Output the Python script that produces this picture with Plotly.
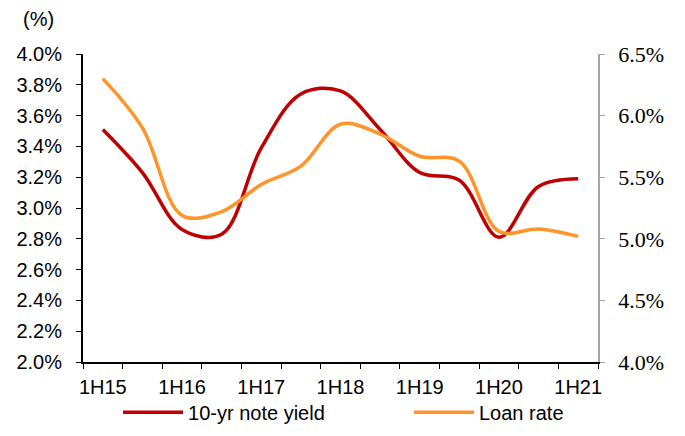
import plotly.graph_objects as go

periods = ["1H15", "2H15", "1H16", "2H16", "1H17", "2H17", "1H18", "2H18",
           "1H19", "2H19", "1H20", "2H20", "1H21"]
tick_labels = ["1H15", "", "1H16", "", "1H17", "", "1H18", "", "1H19", "", "1H20", "", "1H21"]
note_yield = [3.51, 3.23, 2.86, 2.83, 3.39, 3.74, 3.76, 3.51, 3.23, 3.18, 2.81, 3.14, 3.19]
loan_rate = [6.30, 5.90, 5.19, 5.22, 5.44, 5.59, 5.93, 5.85, 5.67, 5.63, 5.06, 5.08, 5.02]

RED = "#C00000"
ORANGE = "#FF9428"
ARIAL = "Liberation Sans, Arial, sans-serif"
SERIF = "Liberation Serif, Times New Roman, serif"

fig = go.Figure()
fig.add_trace(go.Scatter(
    x=periods, y=note_yield, name="10-yr note yield", mode="lines",
    line=dict(color=RED, width=3.5, shape="spline", smoothing=1.0),
    yaxis="y", legend="legend"))
fig.add_trace(go.Scatter(
    x=periods, y=loan_rate, name="Loan rate", mode="lines",
    line=dict(color=ORANGE, width=3.5, shape="spline", smoothing=1.0),
    yaxis="y2", legend="legend2"))

leg_common = dict(orientation="h", yanchor="top", y=-0.10, xanchor="left",
                  font=dict(family=ARIAL, size=20, color="#000000"),
                  itemwidth=60, bgcolor="rgba(0,0,0,0)")

fig.update_layout(
    width=669, height=420,
    margin=dict(l=75, r=79, t=46, b=66, autoexpand=False),
    paper_bgcolor="white", plot_bgcolor="white",
    font=dict(family=ARIAL, size=20, color="#000000"),
    showlegend=True,
    legend=dict(x=0.068, **leg_common),
    legend2=dict(x=0.633, **leg_common),
    xaxis=dict(
        type="category", range=[-0.5, 12.5],
        tickmode="array", tickvals=periods, ticktext=tick_labels,
        tickangle=0, automargin=False,
        tickson="boundaries", ticks="outside", ticklen=5, tickcolor="#000000",
        showline=True, linecolor="#000000", linewidth=2,
        showgrid=False, zeroline=False,
        tickfont=dict(family=ARIAL, size=20, color="#000000"),
        ticklabelstandoff=6),
    yaxis=dict(
        range=[2.0, 4.0], tickmode="linear", tick0=2.0, dtick=0.2,
        tickformat=".1f", ticksuffix="%", automargin=False,
        ticks="outside", ticklen=5, tickcolor="#000000",
        showline=True, linecolor="#000000", linewidth=2,
        showgrid=False, zeroline=False,
        tickfont=dict(family=ARIAL, size=20, color="#000000"),
        ticklabelstandoff=10),
    yaxis2=dict(
        range=[4.0, 6.5], tickmode="linear", tick0=4.0, dtick=0.5,
        tickformat=".1f", ticksuffix="%", automargin=False,
        overlaying="y", side="right",
        ticks="outside", ticklen=5, tickcolor="#A6A6A6",
        showline=True, linecolor="#A6A6A6", linewidth=1.5,
        showgrid=False, zeroline=False,
        tickfont=dict(family=SERIF, size=22, color="#000000"),
        ticklabelstandoff=9),
)
fig.add_annotation(text="(%)", xref="paper", yref="paper", x=-0.12, y=1.115,
                   xanchor="left", yanchor="middle", showarrow=False,
                   font=dict(family=ARIAL, size=20, color="#000000"))

fig.write_html("out.html")
